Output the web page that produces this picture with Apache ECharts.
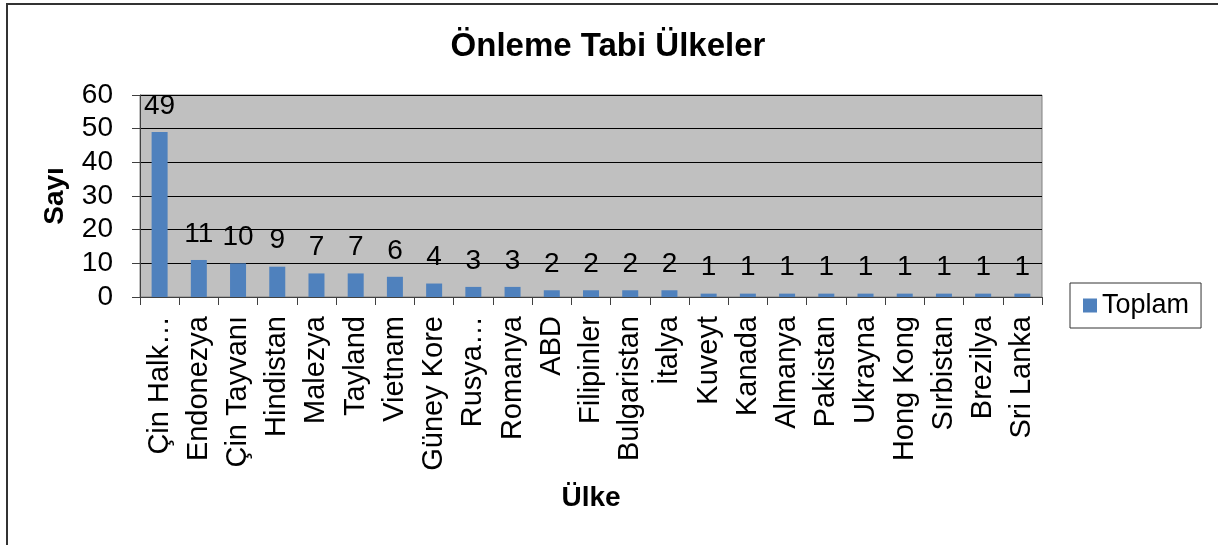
<!DOCTYPE html>
<html>
<head>
<meta charset="utf-8">
<script src="https://cdn.jsdelivr.net/npm/echarts@6/dist/echarts.min.js"></script>
<style>
  html, body { margin: 0; padding: 0; background: #fff; }
  #chart { width: 1218px; height: 545px; }
</style>
</head>
<body>
<div id="chart"></div>
<script>
// veriler
var countries = ['Çin Halk…', 'Endonezya', 'Çin Tayvanı', 'Hindistan', 'Malezya', 'Tayland',
  'Vietnam', 'Güney Kore', 'Rusya…', 'Romanya', 'ABD', 'Filipinler', 'Bulgaristan', 'İtalya',
  'Kuveyt', 'Kanada', 'Almanya', 'Pakistan', 'Ukrayna', 'Hong Kong', 'Sırbistan', 'Brezilya', 'Sri Lanka'];
var toplam = [49, 11, 10, 9, 7, 7, 6, 4, 3, 3, 2, 2, 2, 2, 1, 1, 1, 1, 1, 1, 1, 1, 1];
var yTicks = { min: 0, max: 60, interval: 10 };

var font = '"Liberation Sans", Arial, sans-serif';
var chart = echarts.init(document.getElementById('chart'));

chart.setOption({
  animation: false,
  textStyle: { fontFamily: font },
  title: {
    text: 'Önleme Tabi Ülkeler',
    left: 603,
    textAlign: 'center',
    top: 25,
    textStyle: { fontSize: 33, fontWeight: 'bold', color: '#000', fontFamily: font }
  },
  // dış çerçeve
  graphic: [{
    type: 'rect',
    shape: { x: 7, y: 4, width: 1300, height: 600 },
    style: { fill: 'none', stroke: '#333', lineWidth: 2 },
    silent: true
  }],
  legend: {
    data: ['Toplam'],
    left: 1070,
    top: 283,
    orient: 'vertical',
    padding: [9, 12, 9, 13],
    borderColor: '#333',
    borderWidth: 1,
    itemWidth: 14,
    itemHeight: 14,
    icon: 'rect',
    textStyle: { fontSize: 27, color: '#000', fontFamily: font }
  },
  grid: {
    left: 140,
    right: 176,
    top: 95,
    bottom: 248,
    show: true,
    backgroundColor: '#c0c0c0',
    borderColor: '#808080',
    borderWidth: 1
  },
  xAxis: {
    type: 'category',
    data: countries,
    name: 'Ülke',
    nameLocation: 'middle',
    nameGap: 187,
    nameTextStyle: { fontSize: 28, fontWeight: 'bold', color: '#000', fontFamily: font },
    axisLine: { lineStyle: { color: '#404040', width: 1 } },
    axisTick: { show: true, length: 8, lineStyle: { color: '#404040' } },
    axisLabel: {
      rotate: 90,
      interval: 0,
      margin: 19,
      fontSize: 29,
      color: '#000',
      fontFamily: font
    },
    splitLine: { show: false }
  },
  yAxis: {
    type: 'value',
    min: yTicks.min,
    max: yTicks.max,
    interval: yTicks.interval,
    name: 'Sayı',
    nameLocation: 'middle',
    nameRotate: 90,
    nameGap: 71,
    nameTextStyle: { fontSize: 28, fontWeight: 'bold', color: '#000', fontFamily: font },
    axisLine: { show: true, lineStyle: { color: '#404040', width: 1 } },
    axisTick: { show: true, length: 8, lineStyle: { color: '#404040' } },
    axisLabel: { margin: 27, fontSize: 28, color: '#000', fontFamily: font },
    splitLine: { show: true, lineStyle: { color: '#000', width: 1 } }
  },
  series: [{
    name: 'Toplam',
    type: 'bar',
    data: toplam,
    barWidth: 16,
    itemStyle: { color: '#4f81bd' },
    label: {
      show: true,
      position: 'top',
      distance: 12,
      fontSize: 28,
      color: '#000',
      fontFamily: font
    }
  }]
});
</script>
</body>
</html>
